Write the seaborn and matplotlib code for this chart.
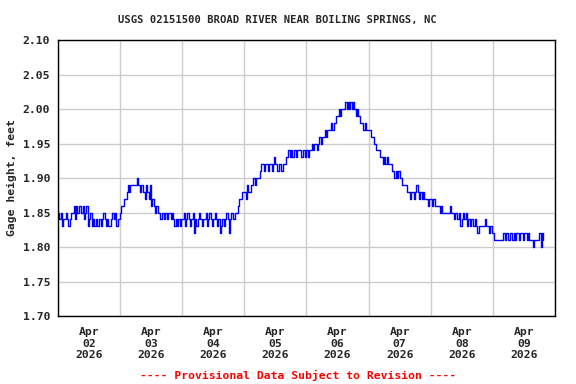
import numpy as np
import pandas as pd
import seaborn as sb
import matplotlib
matplotlib.use('Agg')
import matplotlib.pyplot as plt
import matplotlib.dates as mdates
from matplotlib.ticker import MultipleLocator, FormatStrFormatter

# gage height in hundredths of a foot, one value per half hour
apr02 = [185, 184, 185, 183, 184, 184, 185, 184, 183, 184, 185,
         185, 186, 184, 186, 185, 186, 186, 185, 186, 184, 185, 186,
         183, 184, 185, 183, 184, 183, 184, 183, 183, 184, 183, 184, 185,
         184, 183, 184, 183, 183, 184, 185, 184, 185, 183, 184, 184]
apr03 = [185, 186, 186, 187, 187, 188, 189, 188, 189, 189, 189, 189,
         189, 190, 189, 188, 189, 189, 188, 187, 189, 188, 187, 189,
         186, 187, 186, 185, 186, 185, 185, 184, 185, 185, 184, 185,
         184, 185, 185, 184, 185, 184, 183, 184, 183, 184, 183, 184]
apr04 = [184, 185, 183, 184, 185, 184, 183, 184, 185, 182, 184, 183,
         184, 185, 184, 183, 184, 184, 185, 183, 184, 185, 184, 183,
         184, 185, 184, 183, 184, 182, 183, 184, 183, 184, 185, 184,
         182, 184, 185, 184, 184, 185, 185, 186, 187, 187, 188, 188]
apr05 = [188, 187, 189, 188, 188, 189, 189, 190, 189, 190, 190, 190,
         191, 192, 192, 191, 192, 192, 191, 192, 192, 191, 192, 193,
         192, 191, 191, 192, 191, 191, 192, 192, 193, 193, 194, 193,
         194, 193, 194, 194, 193, 194, 194, 194, 193, 194, 194, 193]
apr06 = [194, 193, 194, 194, 195, 194, 195, 195, 194, 195, 196, 195,
         196, 196, 197, 196, 197, 197, 197, 198, 197, 198, 198, 199,
         199, 200, 199, 200, 200, 200, 201, 200, 201, 200, 201, 200,
         201, 200, 199, 200, 199, 198, 198, 198, 197, 198, 197, 197]
apr07 = [197, 197, 196, 196, 195, 195, 194, 194, 194, 193, 193, 192,
         193, 192, 193, 192, 192, 192, 191, 191, 190, 191, 190, 191,
         190, 190, 189, 189, 189, 189, 188, 188, 187, 188, 188, 187,
         188, 189, 188, 187, 188, 187, 188, 187, 187, 187, 186, 187]
apr08 = [187, 186, 187, 186, 186, 186, 186, 185, 186, 185, 185, 185,
         185, 185, 185, 186, 185, 185, 184, 185, 184, 184, 185, 183,
         184, 185, 184, 185, 183, 184, 183, 184, 184, 183, 184, 183,
         182, 183, 183, 183, 183, 183, 184, 183, 183, 182, 183, 182]
apr09 = [182, 181, 181, 181, 181, 181, 181, 181, 182, 181, 182, 182,
         181, 182, 182, 181, 182, 181, 182, 182, 181, 182, 182, 181,
         182, 182, 181, 182, 181, 181, 181, 180, 181, 181, 181, 181,
         182, 180, 182, 181]

values = np.array(apr02 + apr03 + apr04 + apr05 + apr06 + apr07 + apr08 + apr09) / 100.0
times = pd.date_range('2026-04-02 00:00', periods=len(values), freq='30min')
df = pd.DataFrame({'time': times, 'gage': values})

sb.set_style('white')
plt.rcParams['font.family'] = ['DejaVu Sans Mono']
plt.rcParams['font.weight'] = 'bold'

fig = plt.figure(figsize=(5.76, 3.84), dpi=100)
ax = fig.add_axes([0.1007, 0.177, 0.8628, 0.7188])

sb.lineplot(data=df, x='time', y='gage', ax=ax, color='#0000ff', linewidth=1.0,
            drawstyle='steps-post')

ax.set_xlim(pd.Timestamp('2026-04-02'), pd.Timestamp('2026-04-10'))
ax.set_ylim(1.70, 2.10)
ax.yaxis.set_major_locator(MultipleLocator(0.05))
ax.yaxis.set_major_formatter(FormatStrFormatter('%.2f'))
ax.xaxis.set_major_locator(mdates.DayLocator())
ax.xaxis.set_major_formatter(plt.NullFormatter())
ax.xaxis.set_minor_locator(mdates.HourLocator(byhour=[12]))
ax.xaxis.set_minor_formatter(mdates.DateFormatter('%b\n%d\n%Y'))
ax.grid(True, which='major', color='#cccccc', linewidth=1)
ax.tick_params(axis='both', which='both', length=0, labelsize=8.2)
ax.tick_params(axis='x', which='minor', pad=8)
ax.tick_params(axis='y', pad=5.5)
for s in ax.spines.values():
    s.set_color('black')
    s.set_linewidth(1)

ax.set_xlabel('')
ax.set_ylabel('Gage height, feet', fontsize=8.2, fontweight='bold', labelpad=4)
fig.text(0.482, 0.948, 'USGS 02151500 BROAD RIVER NEAR BOILING SPRINGS, NC',
         ha='center', va='center', fontsize=7.6, fontweight='bold')
fig.text(0.518, 0.023, '---- Provisional Data Subject to Revision ----',
         ha='center', va='center', fontsize=8.2, fontweight='bold', color='red')

plt.savefig('out.png', dpi=100)
